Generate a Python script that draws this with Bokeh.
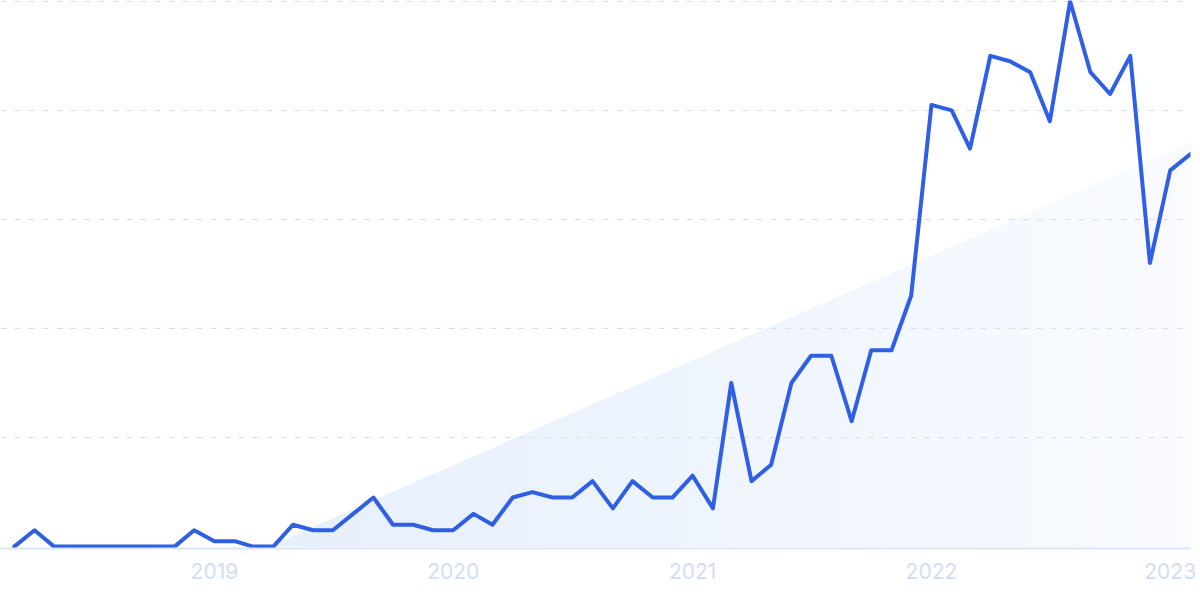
import numpy as np
import pandas as pd
from bokeh.plotting import figure
from bokeh.models import Range1d, FixedTicker, DatetimeTickFormatter
from bokeh.embed import file_html
from bokeh.resources import INLINE

# ---- data ----
start_month = "2018-03-01"
values = [0, 3, 0, 0, 0, 0, 0, 0, 0, 3,          # Mar-Dec 2018
          1, 1, 0, 0, 4, 3, 3, 6, 9, 4, 4, 3,    # 2019
          3, 6, 4, 9, 10, 9, 9, 12, 7, 12, 9, 9, # 2020
          13, 7, 30, 12, 15, 30, 35, 35, 23, 36, 36, 46,  # 2021
          81, 80, 73, 90, 89, 87, 78, 100, 87, 83, 90, 52, # 2022
          69, 72]                                 # 2023
dates = pd.date_range(start_month, periods=len(values), freq="MS")

trend_dates = ["2019-03-25", "2023-02-01"]
trend_values = [0, 74]

year_ticks = ["2019-01-01", "2020-01-01", "2021-01-01", "2022-01-01", "2023-01-01"]
y_grid_values = [20, 40, 60, 80, 100]

# ---- figure ----
def ms(d):
    return pd.Timestamp(d).value / 1e6

p = figure(x_axis_type="datetime", output_backend="svg", toolbar_location=None,
           frame_width=1190, frame_height=548,
           x_range=Range1d(ms("2018-02-08"), ms("2023-02-01")),
           y_range=Range1d(-0.35, 100.15))
p.min_border_left = 0
p.min_border_right = 10
p.min_border_top = 0
p.min_border_bottom = 45
p.outline_line_color = None
p.background_fill_color = "white"
p.border_fill_color = "white"

# gradient-like trend fill (nested strips, drawn beneath the grid)
tx = np.array([ms(d) for d in trend_dates])
ty = np.array(trend_values, dtype=float)
n_strips = 60
xs_edges = np.linspace(tx[0], tx[1], n_strips + 1)
c0 = np.array([231, 240, 253])
c1 = np.array([249, 251, 255])
for i in range(n_strips):
    f = i / (n_strips - 1)
    c = (c0 * (1 - f) + c1 * f).astype(int)
    col = "#%02x%02x%02x" % tuple(c)
    xa = xs_edges[i]
    xb = tx[1]
    ya = np.interp(xa, tx, ty)
    r = p.patch([xa, xb, xb, xa], [ya, ty[1], 0, 0], fill_color=col,
                line_color=None)
    r.level = "image"

# main line
p.line(dates, values, line_color="#2f5fe4", line_width=4,
       line_join="round", line_cap="round")

# axes / grid
p.yaxis.visible = False
p.xgrid.visible = False
p.ygrid.ticker = FixedTicker(ticks=y_grid_values)
p.ygrid.grid_line_color = "#d3e0fa"
p.ygrid.grid_line_width = 1
p.ygrid.grid_line_dash = "6 8"

ax = p.xaxis[0]
ax.ticker = FixedTicker(ticks=[ms(d) for d in year_ticks])
ax.formatter = DatetimeTickFormatter(years="%Y", months="%Y", days="%Y")
ax.axis_line_color = "#dae7fb"
ax.axis_line_width = 2
ax.major_tick_line_color = None
ax.minor_tick_line_color = None
ax.major_label_text_color = "#d3dcf6"
ax.major_label_text_font = "Inter"
ax.major_label_text_font_size = "21px"
ax.major_label_standoff = 8

open("out.html", "w").write(file_html(p, INLINE))
